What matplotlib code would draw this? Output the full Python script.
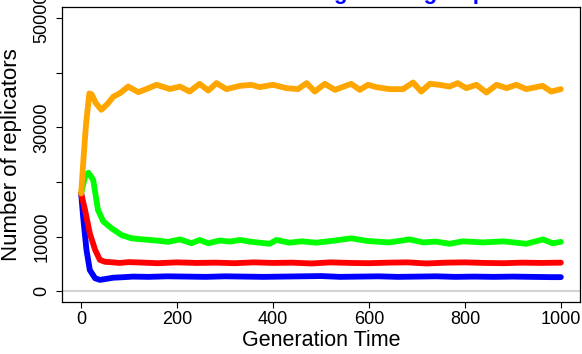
import matplotlib
matplotlib.use("Agg")
import matplotlib.pyplot as plt

plt.rcParams["font.family"] = ["Liberation Sans", "DejaVu Sans"]

# values
orange_gen = [0, 5, 10, 17, 22, 30, 42, 55, 67, 81, 98, 119, 136, 157, 185, 206, 226, 247, 265, 282,
              303, 331, 355, 372, 400, 428, 452, 470, 487, 508, 529, 563, 581, 598, 615, 643, 671, 692,
              709, 727, 747, 768, 785, 803, 824, 845, 866, 887, 907, 928, 949, 962, 980, 1000]
orange_val = [17900, 24500, 30500, 36200, 36000, 34500, 33200, 34300, 35600, 36250, 37450, 36430, 37000,
              37770, 37000, 37450, 36540, 37950, 36720, 38080, 36980, 37580, 37770, 37350, 37770, 37160,
              36980, 38080, 36540, 37950, 36850, 37950, 36850, 37770, 37350, 36980, 36980, 38190, 36540,
              37950, 37770, 37450, 38080, 37160, 37770, 36360, 37770, 37160, 37770, 36980, 37350, 37580,
              36540, 36980]

green_gen = [0, 8, 15, 25, 35, 46, 63, 84, 105, 129, 157, 181, 206, 230, 247, 265, 289, 310, 331, 351,
             372, 393, 407, 434, 460, 490, 520, 563, 598, 642, 685, 713, 740, 768, 796, 838, 880, 928,
             963, 983, 1000]
green_val = [17900, 21000, 21700, 20400, 14900, 12800, 11550, 10300, 9700, 9500, 9300, 9050, 9500, 8800,
             9400, 8800, 9300, 9100, 9400, 9100, 8900, 8700, 9400, 8900, 9150, 8900, 9200, 9700, 9200,
             8950, 9500, 8950, 9100, 8700, 9150, 8950, 9150, 8700, 9500, 8800, 9050]

red_gen = [0, 8, 18, 29, 39, 50, 60, 80, 100, 130, 160, 200, 240, 280, 320, 360, 400, 440, 480, 520,
           560, 600, 640, 680, 720, 760, 800, 840, 880, 920, 960, 1000]
red_val = [17900, 14900, 10600, 7600, 5750, 5400, 5350, 5200, 5350, 5250, 5150, 5300, 5200, 5250, 5150,
           5300, 5200, 5250, 5100, 5300, 5200, 5150, 5250, 5300, 5100, 5250, 5300, 5200, 5150, 5250,
           5200, 5250]

blue_gen = [0, 4, 11, 18, 29, 39, 50, 67, 90, 108, 140, 180, 220, 260, 300, 340, 380, 420, 460, 500,
            540, 580, 620, 660, 700, 740, 780, 820, 860, 900, 940, 980, 1000]
blue_val = [17900, 13700, 7600, 3900, 2400, 2100, 2250, 2500, 2600, 2700, 2650, 2750, 2700, 2650, 2750,
            2700, 2650, 2700, 2750, 2800, 2650, 2700, 2750, 2650, 2700, 2750, 2650, 2700, 2650, 2700,
            2650, 2600, 2600]

y_ticks = [0, 10000, 20000, 30000, 40000, 50000]
y_labels = ["0", "10000", "", "30000", "", "50000"]
x_ticks = [0, 200, 400, 600, 800, 1000]

W, H = 582, 354
fig = plt.figure(figsize=(W / 100, H / 100), dpi=100)
ax = fig.add_axes([62 / W, (H - 302.3) / H, (580 - 62) / W, (302.3 - 7) / H])

ax.axhline(0, color="#d3d3d3", lw=1.5, zorder=1)

kw = dict(lw=4.2, solid_capstyle="round", solid_joinstyle="round")
ax.plot(green_gen, green_val, color="#00ff00", **kw)
ax.plot(blue_gen, blue_val, color="#0000ff", **kw)
ax.plot(red_gen, red_val, color="#ff0000", **kw)
ax.plot(orange_gen, orange_val, color="#ffa500", **kw)

ax.set_xlim(-40, 1040)
ax.set_ylim(-2000, 52000)
ax.set_xticks(x_ticks)
ax.set_xticklabels([str(x) for x in x_ticks], fontsize=13)
ax.set_yticks(y_ticks)
ax.set_yticklabels(y_labels, fontsize=13, rotation=90, va="center")
ax.tick_params(direction="out", length=4.5, width=0.8)
ax.tick_params(axis="x", pad=2)
ax.tick_params(axis="y", pad=4)
for s in ax.spines.values():
    s.set_linewidth(0.9)

ax.set_xlabel("Generation Time", fontsize=15.5, labelpad=1.5)
ax.set_ylabel("Number of replicators", fontsize=16, labelpad=8)

# title mostly clipped off the top of the image
fig.text(320 / W, 1 + 1 / H, "Strains interacting within group", color="#0000ff",
         fontsize=16, fontweight="bold", ha="center", va="baseline")

fig.savefig("out.png", dpi=100)
